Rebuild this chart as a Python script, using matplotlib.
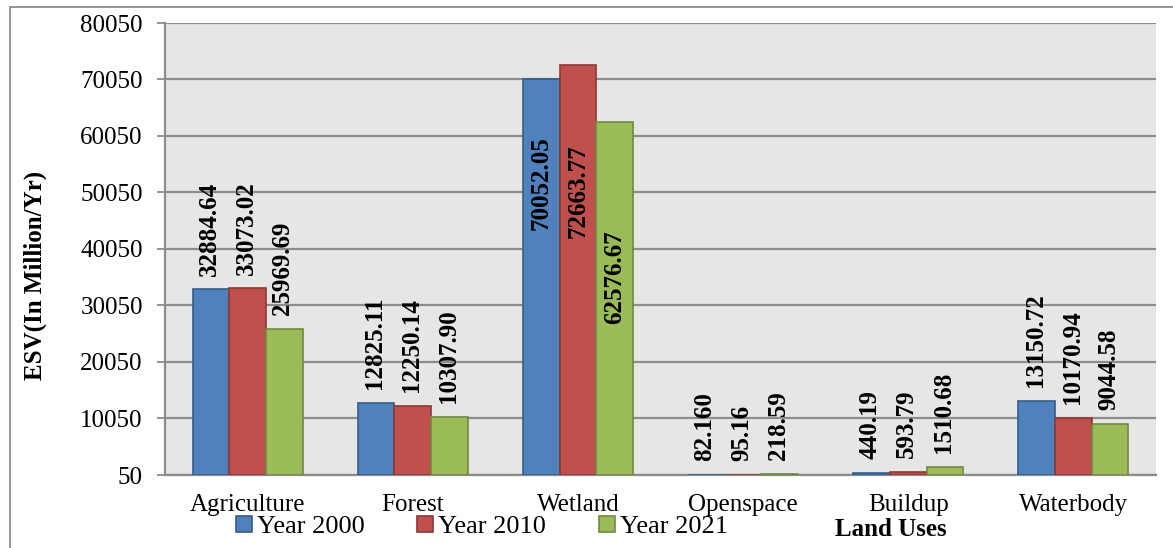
import matplotlib
matplotlib.use("Agg")
import matplotlib.pyplot as plt
from matplotlib.patches import Rectangle
import numpy as np

plt.rcParams['font.family'] = ['Liberation Serif', 'DejaVu Serif']

categories = ["Agriculture", "Forest", "Wetland", "Openspace", "Buildup", "Waterbody"]
series_names = ["Year 2000", "Year 2010", "Year 2021"]
year_2000 = [32884.64, 12825.11, 70052.05, 82.160, 440.19, 13150.72]
year_2010 = [33073.02, 12250.14, 72663.77, 95.16, 593.79, 10170.94]
year_2021 = [25969.69, 10307.90, 62576.67, 218.59, 1510.68, 9044.58]
label_text = [
    ["32884.64", "12825.11", "70052.05", "82.160", "440.19", "13150.72"],
    ["33073.02", "12250.14", "72663.77", "95.16", "593.79", "10170.94"],
    ["25969.69", "10307.90", "62576.67", "218.59", "1510.68", "9044.58"],
]
yticks = [50, 10050, 20050, 30050, 40050, 50050, 60050, 70050, 80050]

faces = ["#4F81BD", "#C0504D", "#9BBB59"]
edges = ["#385D8A", "#8C3836", "#71893F"]

W, H = 1173, 548
fig = plt.figure(figsize=(W / 100, H / 100), dpi=100)
ax = fig.add_axes([165 / W, 1 - 475 / H, (1156 - 165) / W, (475 - 23) / H])
ax.set_facecolor("#E6E6E6")

# outer chart frame
fig.patches.append(Rectangle((10 / W, -0.05), 1.2, 1 - 7 / H + 0.05,
                             transform=fig.transFigure, fill=False,
                             edgecolor="#8C8C8C", linewidth=1.3))

x = np.arange(len(categories))
bw = 0.222
series = [year_2000, year_2010, year_2021]
# labels that sit inside the tall wetland bars, measured down from bar top (points)
inside_drop = {(0, 2): 41, (1, 2): 57, (2, 2): 78}

for s, vals in enumerate(series):
    xs = x + (s - 1) * bw
    ax.bar(xs, vals, width=bw, color=faces[s], edgecolor=edges[s],
           linewidth=1.2, label=series_names[s], zorder=3)
    for i, v in enumerate(vals):
        if (s, i) in inside_drop:
            ax.annotate(label_text[s][i], (xs[i], v), xytext=(0, -inside_drop[(s, i)]),
                        textcoords="offset points", rotation=90, ha="center", va="top",
                        fontsize=18, fontweight="bold", zorder=4)
        else:
            ax.annotate(label_text[s][i], (xs[i], max(v, 50)), xytext=(-1, 10),
                        textcoords="offset points", rotation=90, ha="center", va="bottom",
                        fontsize=18, fontweight="bold", zorder=4)

ax.set_xlim(-0.5, len(categories) - 0.5)
ax.set_ylim(50, 80050)
ax.set_yticks(yticks)
ax.set_yticklabels([str(t) for t in yticks])
ax.set_xticks(x)
ax.set_xticklabels(categories)
ax.grid(axis="y", color="#8C8C8C", linewidth=1.6, zorder=1)
ax.set_axisbelow(True)
for sp in ["top", "right"]:
    ax.spines[sp].set_visible(False)
for sp in ["left", "bottom"]:
    ax.spines[sp].set_color("#8C8C8C")
    ax.spines[sp].set_linewidth(1.6)
ax.tick_params(axis="y", length=6, width=1.3, color="#8C8C8C", pad=10, labelsize=18)
ax.tick_params(axis="x", length=0, pad=14, labelsize=18)

fig.text(35 / W, 1 - 275 / H, "ESV(In Million/Yr)", rotation=90, ha="center", va="center",
         fontsize=18, fontweight="bold")
fig.text(891 / W, 1 - 530 / H, "Land Uses", ha="center", va="center",
         fontsize=18, fontweight="bold")

fig.legend(loc="center", bbox_to_anchor=(482 / W, 1 - 527 / H), ncol=3, frameon=False,
           fontsize=19, handlelength=0.6, handleheight=0.6, handletextpad=0.2,
           columnspacing=2.0, borderpad=0, borderaxespad=0)

fig.savefig("out.png", dpi=100)
